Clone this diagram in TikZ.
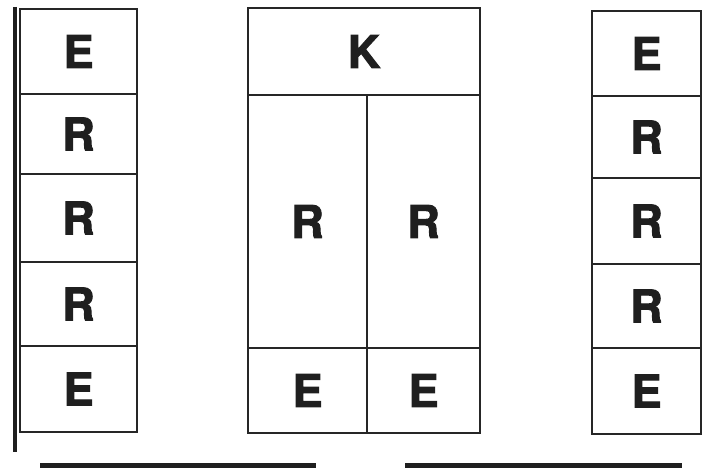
\documentclass[tikz,border=0pt]{standalone}
\usepackage{fontspec}
\setmainfont{TeX Gyre Heros}
\newfontfamily\heavyfont[FakeBold=2.2]{TeX Gyre Heros Bold}
\begin{document}
\begin{tikzpicture}[x=1pt,y=-1pt,
  cell/.style={draw=black!85, line width=1.6pt, rectangle, inner sep=0pt,
    font=\fontsize{45}{45}\heavyfont, text=black!88},
  bar/.style={fill=black!88, draw=none}]
\useasboundingbox (0,0) rectangle (702,468);
% left column
\node[cell, minimum width=117pt, minimum height=85pt] (l1) at (78.5,51.5) {E};
\node[cell, minimum width=117pt, minimum height=80pt] (l2) at (78.5,134) {R};
\node[cell, minimum width=117pt, minimum height=88pt] (l3) at (78.5,218) {R};
\node[cell, minimum width=117pt, minimum height=84pt] (l4) at (78.5,304) {R};
\node[cell, minimum width=117pt, minimum height=86pt] (l5) at (78.5,389) {E};
\coordinate (pt) at (15,7);
\coordinate (pb) at (15,452);
\draw[line width=3.6pt, black!88] (pt) -- (pb);
% middle block
\node[cell, minimum width=232pt, minimum height=87pt] (mk) at (364,51.5) {K};
\node[cell, minimum width=119pt, minimum height=253pt] (mr1) at (307.5,221.5) {R};
\node[cell, minimum width=113pt, minimum height=253pt] (mr2) at (423.5,221.5) {R};
\node[cell, minimum width=119pt, minimum height=85pt] (me1) at (307.5,390.5) {E};
\node[cell, minimum width=113pt, minimum height=85pt] (me2) at (423.5,390.5) {E};
% right column
\node[cell, minimum width=109pt, minimum height=85pt] (r1) at (646.5,53.5) {E};
\node[cell, minimum width=109pt, minimum height=82pt] (r2) at (646.5,137) {R};
\node[cell, minimum width=109pt, minimum height=86pt] (r3) at (646.5,221) {R};
\node[cell, minimum width=109pt, minimum height=84pt] (r4) at (646.5,306) {R};
\node[cell, minimum width=109pt, minimum height=86pt] (r5) at (646.5,391) {E};
% bottom bars
\fill[bar] (40,463) rectangle (316,470);
\fill[bar] (405,463) rectangle (682,470);
\end{tikzpicture}
\end{document}
